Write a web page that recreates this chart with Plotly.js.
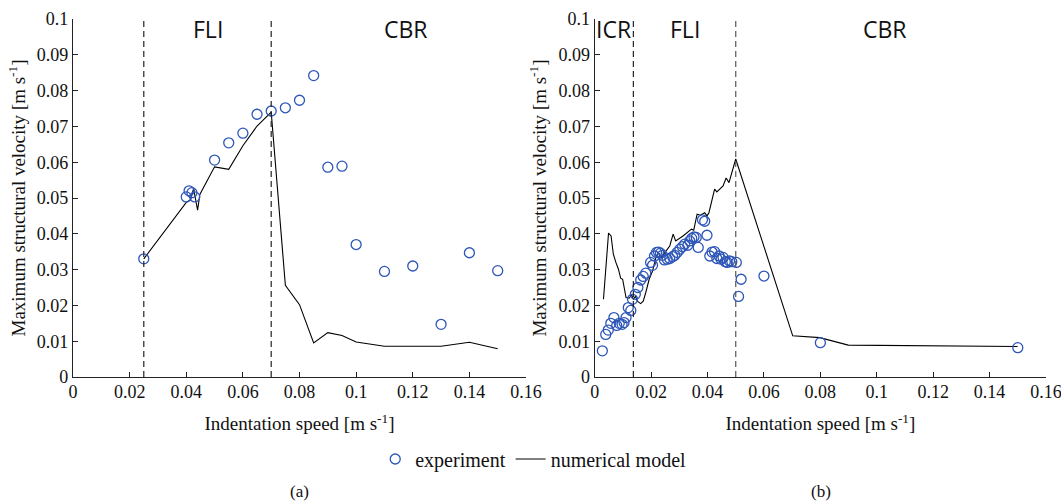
<!DOCTYPE html>
<html>
<head>
<meta charset="utf-8">
<script src="https://cdn.plot.ly/plotly-3.0.1.min.js"></script>
<style>html,body{margin:0;padding:0;background:#fff;}</style>
</head>
<body>
<div id="chart" style="width:1061px;height:504px;"></div>
<script>
// ---- Panel (a) ----
const expA_x = [0.025, 0.040, 0.041, 0.042, 0.043, 0.050, 0.055, 0.060, 0.065, 0.070, 0.075, 0.080, 0.085, 0.090, 0.095, 0.100, 0.110, 0.120, 0.130, 0.140, 0.150];
const expA_y = [0.0330, 0.0503, 0.0520, 0.0515, 0.0503, 0.0606, 0.0654, 0.0681, 0.0734, 0.0743, 0.0752, 0.0773, 0.0842, 0.0586, 0.0589, 0.0370, 0.0295, 0.0310, 0.0147, 0.0347, 0.0297];
const modA_x = [0.025, 0.040, 0.0415, 0.0426, 0.0432, 0.0440, 0.0448, 0.050, 0.055, 0.060, 0.065, 0.070, 0.075, 0.080, 0.085, 0.090, 0.095, 0.100, 0.110, 0.120, 0.130, 0.140, 0.150];
const modA_y = [0.0330, 0.0488, 0.0495, 0.0527, 0.0500, 0.0466, 0.0510, 0.0587, 0.0580, 0.0646, 0.0701, 0.0740, 0.0256, 0.0202, 0.0095, 0.0124, 0.0116, 0.0098, 0.0086, 0.0086, 0.0086, 0.0097, 0.0079];
const boundsA = [0.025, 0.07];
const regionsA = ['FLI', 'CBR'];
const regionsA_x = [0.0478, 0.1177];

// ---- Panel (b) ----
const expB_x = [0.0027, 0.0039, 0.0048, 0.0057, 0.0068, 0.0078, 0.0087, 0.0097, 0.0104, 0.0111, 0.0119, 0.0128, 0.0134, 0.0144, 0.0153, 0.0163, 0.0172, 0.0181, 0.0198, 0.0205, 0.0212, 0.0219, 0.0226, 0.0233, 0.0240, 0.0247, 0.0257, 0.0266, 0.0276, 0.0284, 0.0292, 0.0302, 0.0311, 0.0319, 0.0330, 0.0337, 0.0344, 0.0352, 0.0360, 0.0367, 0.0382, 0.0390, 0.0398, 0.0408, 0.0416, 0.0425, 0.0433, 0.0441, 0.0448, 0.0455, 0.0463, 0.0470, 0.0478, 0.0486, 0.0502, 0.0510, 0.0519, 0.0600, 0.0800, 0.1500];
const expB_y = [0.0073, 0.0119, 0.0131, 0.0150, 0.0166, 0.0144, 0.0150, 0.0147, 0.0152, 0.0166, 0.0194, 0.0186, 0.0217, 0.0231, 0.0250, 0.0271, 0.0281, 0.0290, 0.0320, 0.0312, 0.0338, 0.0348, 0.0349, 0.0346, 0.0340, 0.0327, 0.0329, 0.0331, 0.0336, 0.0340, 0.0348, 0.0357, 0.0364, 0.0371, 0.0368, 0.0380, 0.0387, 0.0391, 0.0390, 0.0362, 0.0439, 0.0435, 0.0396, 0.0338, 0.0349, 0.0350, 0.0331, 0.0338, 0.0329, 0.0334, 0.0322, 0.0320, 0.0324, 0.0322, 0.0320, 0.0225, 0.0273, 0.0282, 0.0096, 0.0082];
const modB_x = [0.0031, 0.0049, 0.0058, 0.0066, 0.0075, 0.0084, 0.0092, 0.0099, 0.0111, 0.0122, 0.0131, 0.0137, 0.0145, 0.0151, 0.0163, 0.0172, 0.0181, 0.0193, 0.0205, 0.0217, 0.0225, 0.0237, 0.0249, 0.0266, 0.0278, 0.0287, 0.0313, 0.0331, 0.0343, 0.0351, 0.0363, 0.0374, 0.0390, 0.0398, 0.0405, 0.0425, 0.0433, 0.0455, 0.0466, 0.0476, 0.0500, 0.0702, 0.0798, 0.0899, 0.1499];
const modB_y = [0.0217, 0.0402, 0.0394, 0.0343, 0.0320, 0.0301, 0.0276, 0.0273, 0.0222, 0.0220, 0.0229, 0.0217, 0.0226, 0.0212, 0.0205, 0.0212, 0.0236, 0.0273, 0.0296, 0.0334, 0.0348, 0.0334, 0.0348, 0.0366, 0.0399, 0.0380, 0.0394, 0.0405, 0.0413, 0.0410, 0.0455, 0.0452, 0.0459, 0.0450, 0.0459, 0.0525, 0.0517, 0.0534, 0.0556, 0.0543, 0.0609, 0.0115, 0.0110, 0.0089, 0.0085];
const boundsB = [0.0137, 0.05];
const regionsB = ['ICR', 'FLI', 'CBR'];
const regionsB_x = [0.0065, 0.0319, 0.1030];

// ---- Axes ticks ----
const xTickVals = [0, 0.02, 0.04, 0.06, 0.08, 0.10, 0.12, 0.14, 0.16];
const xTickText = ['0', '0.02', '0.04', '0.06', '0.08', '0.1', '0.12', '0.14', '0.16'];
const yTickVals = [0, 0.01, 0.02, 0.03, 0.04, 0.05, 0.06, 0.07, 0.08, 0.09, 0.10];
const yTickText = ['0', '0.01', '0.02', '0.03', '0.04', '0.05', '0.06', '0.07', '0.08', '0.09', '0.1'];
const regionLabelY = 0.0973;

const serif = 'Liberation Serif';
const sans = 'Open Sans';
const blue = '#2d56b8';

const markerStyle = {symbol: 'circle-open', size: 10, color: blue, line: {width: 1.3, color: blue}};
const lineStyle = {color: '#000', width: 1.1};

// lines first so that the markers sit above them
const traces = [
  {x: modA_x, y: modA_y, type: 'scatter', mode: 'lines', name: 'numerical model', line: lineStyle, xaxis: 'x', yaxis: 'y', legendgroup: 'mod', legendrank: 2, showlegend: true},
  {x: expA_x, y: expA_y, type: 'scatter', mode: 'markers', name: 'experiment', marker: markerStyle, xaxis: 'x', yaxis: 'y', legendgroup: 'exp', legendrank: 1, showlegend: true},
  {x: modB_x, y: modB_y, type: 'scatter', mode: 'lines', name: 'numerical model', line: lineStyle, xaxis: 'x2', yaxis: 'y2', legendgroup: 'mod', showlegend: false},
  {x: expB_x, y: expB_y, type: 'scatter', mode: 'markers', name: 'experiment', marker: markerStyle, xaxis: 'x2', yaxis: 'y2', legendgroup: 'exp', showlegend: false}
];

function xAxis(domain, anchor) {
  return {
    domain: domain, anchor: anchor, range: [0, 0.16], tickmode: 'array', tickvals: xTickVals, ticktext: xTickText,
    ticks: 'inside', ticklen: 5, tickwidth: 1, tickcolor: '#222', showline: true, linecolor: '#222', linewidth: 1.2,
    showgrid: false, zeroline: false, tickfont: {family: serif, size: 18, color: '#111'}, ticklabelstandoff: -2,
    ticklabeloverflow: 'allow',
    title: {text: 'Indentation speed [m s<sup>-1</sup>]', font: {family: serif, size: 19, color: '#111'}, standoff: 16}
  };
}
function yAxis(anchor) {
  return {
    domain: [0, 1], anchor: anchor, range: [0, 0.1], tickmode: 'array', tickvals: yTickVals, ticktext: yTickText,
    ticks: 'inside', ticklen: 5, tickwidth: 1, tickcolor: '#222', showline: true, linecolor: '#222', linewidth: 1.2,
    showgrid: false, zeroline: false, tickfont: {family: serif, size: 18, color: '#111'}, ticklabeloverflow: 'allow',
    title: {text: 'Maximum structural velocity [m s<sup>-1</sup>]', font: {family: serif, size: 19, color: '#111'}, standoff: 6}
  };
}

const shapes = [];
boundsA.forEach(v => shapes.push({type: 'line', xref: 'x', yref: 'y', x0: v, x1: v, y0: 0, y1: 0.1, line: {color: '#222', width: 1.2, dash: '6px,4px'}}));
boundsB.forEach((v, i) => shapes.push({type: 'line', xref: 'x2', yref: 'y2', x0: v, x1: v, y0: 0, y1: 0.1, line: {color: i === 1 ? '#555' : '#222', width: 1.2, dash: '6px,4px'}}));

const annotations = [];
regionsA.forEach((t, i) => annotations.push({text: t, x: regionsA_x[i], y: regionLabelY, xref: 'x', yref: 'y', showarrow: false, font: {family: sans, size: 23, color: '#111'}, xanchor: 'center', yanchor: 'middle'}));
regionsB.forEach((t, i) => annotations.push({text: t, x: regionsB_x[i], y: regionLabelY, xref: 'x2', yref: 'y2', showarrow: false, font: {family: sans, size: 23, color: '#111'}, xanchor: 'center', yanchor: 'middle'}));
annotations.push({text: '(a)', x: 0.2323, y: -0.321, xref: 'paper', yref: 'paper', showarrow: false, font: {family: serif, size: 17, color: '#111'}, xanchor: 'center', yanchor: 'middle'});
annotations.push({text: '(b)', x: 0.7688, y: -0.321, xref: 'paper', yref: 'paper', showarrow: false, font: {family: serif, size: 17, color: '#111'}, xanchor: 'center', yanchor: 'middle'});

const layout = {
  width: 1061, height: 504,
  margin: {l: 73, r: 15, t: 19, b: 127},
  paper_bgcolor: '#fff', plot_bgcolor: '#fff',
  font: {family: serif, size: 17, color: '#111'},
  xaxis: xAxis([0, 0.4656], 'y'),
  yaxis: yAxis('x'),
  xaxis2: xAxis([0.5362, 1], 'y2'),
  yaxis2: yAxis('x2'),
  showlegend: true,
  legend: {orientation: 'h', x: 0.473, xanchor: 'center', y: -0.229, yanchor: 'middle', font: {family: serif, size: 20, color: '#111'}, bgcolor: 'rgba(0,0,0,0)', traceorder: 'normal'},
  shapes: shapes,
  annotations: annotations
};

Plotly.newPlot('chart', traces, layout, {displayModeBar: false, staticPlot: true});
</script>
</body>
</html>
